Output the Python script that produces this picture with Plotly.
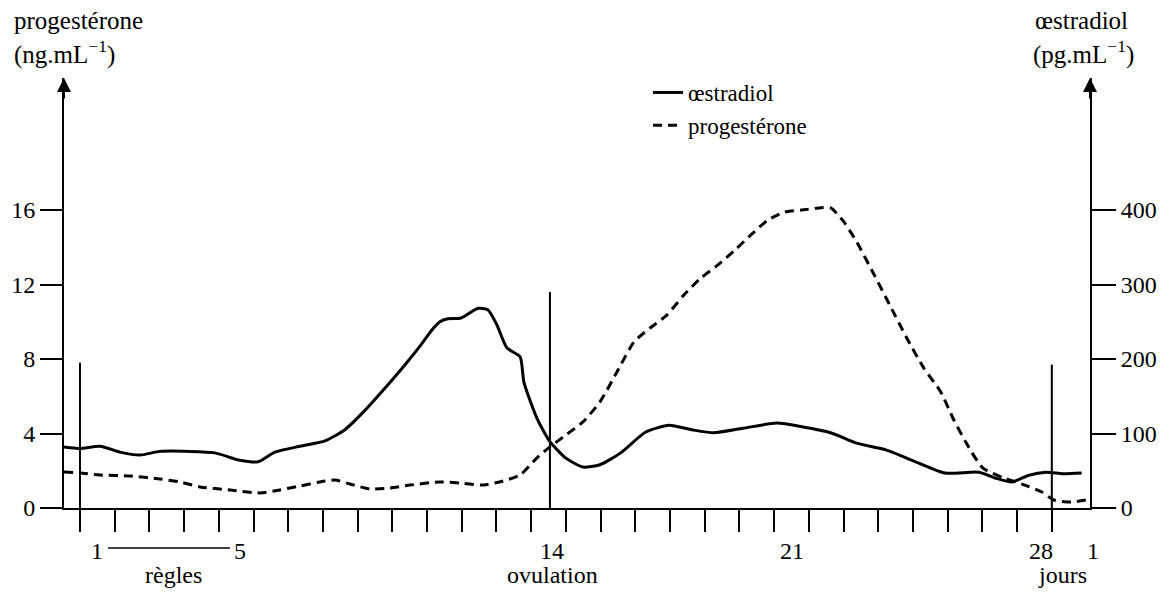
import plotly.graph_objects as go

# ---------------- data ----------------
# x = day of the cycle (day d is centred on d; tick marks sit on day boundaries)
oestradiol_days = [0.04, 0.5, 1.08, 1.65, 2.23, 2.80, 3.67, 4.39, 5.11, 5.63, 6.12, 6.84,
                   7.56, 8.13, 8.71, 9.29, 9.86, 10.29, 10.64, 10.87, 11.10, 11.48, 11.97,
                   12.25, 12.51, 12.80, 13.18, 13.29, 13.66, 14.04, 14.50, 14.99, 15.48,
                   16.08, 16.80, 17.47, 18.13, 18.76, 19.60, 20.58, 21.30, 22.13, 22.88,
                   23.72, 24.58, 25.42, 26.40, 26.89, 27.35, 27.84, 28.33, 28.82, 29.36]
oestradiol_pg = [82, 80, 83, 75, 71, 76, 76, 74, 64, 62, 75, 83,
                 90, 105, 131, 161, 192, 217, 239, 250, 254, 255, 268,
                 266, 246, 215, 203, 169, 121, 89, 67, 55, 58,
                 74, 102, 111, 105, 101, 107, 114, 109, 101, 87,
                 78, 62, 47, 48, 40, 35, 44, 48, 46, 47]

progesterone_days = [0.04, 0.5, 1.08, 1.94, 2.80, 3.38, 3.96, 4.82, 5.69, 6.26, 6.84, 7.41,
                     7.85, 8.28, 8.85, 9.43, 10.01, 10.87, 11.48, 12.08, 12.69, 13.18, 13.66,
                     14.04, 14.50, 14.99, 15.48, 15.97, 16.46, 16.92, 17.41, 17.90, 18.39,
                     18.88, 19.37, 19.83, 20.32, 20.81, 21.30, 21.79, 22.13, 22.51, 22.88,
                     23.34, 23.83, 24.32, 24.81, 25.30, 25.65, 26.02, 26.51, 27.12, 27.72,
                     28.21, 28.56, 29.05, 29.48]
progesterone_ng = [1.93, 1.88, 1.77, 1.72, 1.56, 1.40, 1.13, 0.97, 0.81, 0.97, 1.18, 1.40,
                   1.50, 1.29, 1.02, 1.07, 1.23, 1.40, 1.34, 1.23, 1.45, 1.77, 2.68,
                   3.28, 3.92, 4.62, 5.69, 7.30, 8.91, 9.66, 10.36, 11.44, 12.35,
                   13.05, 13.85, 14.66, 15.46, 15.89, 16.00, 16.11, 16.11, 15.36, 14.28,
                   12.67, 10.90, 9.13, 7.52, 6.23, 4.83, 3.54, 2.15, 1.61, 1.23,
                   0.86, 0.43, 0.32, 0.43]

left_ticks = [0, 4, 8, 12, 16]
right_ticks = [0, 100, 200, 300, 400]
day_boundaries = [d + 0.5 for d in range(0, 29)]          # 0.5 ... 28.5
day_labels = [("1", 1.0), ("5", 5.1), ("14", 14.1), ("21", 21.0), ("28", 28.2), ("1", 29.7)]
event_labels = [("règles", 3.2), ("ovulation", 14.1), ("jours", 28.8)]
reference_lines = [(0.5, 7.8), (14.04, 11.6), (28.5, 7.7)]   # (day, top in ng/mL)
regles_span = (1.31, 4.82)

# ---------------- layout constants ----------------
W, H = 1169, 592
ML, MR, MT, MB = 64, 79, 78, 84
X_RANGE = [0.04, 29.6]
Y_TOP = (H - MB - MT) / 18.625          # ng/mL at top of plot area
RATIO = 25                               # pg/mL per ng/mL
FONT = "Liberation Serif"
FS = 24
plot_h = H - MT - MB
plot_w = W - ML - MR


def py(y_px):
    """pixel y -> paper y"""
    return (H - MB - y_px) / plot_h


def px(x_px):
    """pixel x -> paper x"""
    return (x_px - ML) / plot_w


def pday(d):
    """day value -> paper x"""
    return (d - X_RANGE[0]) / (X_RANGE[1] - X_RANGE[0])


fig = go.Figure()
fig.add_trace(go.Scatter(
    x=oestradiol_days, y=oestradiol_pg, name="œstradiol", yaxis="y2",
    mode="lines", line=dict(color="black", width=3, shape="spline", smoothing=0.6)))
fig.add_trace(go.Scatter(
    x=progesterone_days, y=progesterone_ng, name="progestérone", yaxis="y",
    mode="lines", line=dict(color="black", width=3, dash="9px,6px", shape="spline", smoothing=0.6)))

shapes = []
for d, top in reference_lines:
    shapes.append(dict(type="line", xref="x", yref="y", x0=d, x1=d, y0=0, y1=top,
                       line=dict(color="black", width=2)))
shapes.append(dict(type="line", xref="x", yref="paper", x0=regles_span[0], x1=regles_span[1],
                   y0=py(548), y1=py(548), line=dict(color="black", width=1.5)))

annotations = []
for txt, d in day_labels:
    annotations.append(dict(x=pday(d), y=py(551), xref="paper", yref="paper", text=txt,
                            showarrow=False, font=dict(family=FONT, size=FS, color="black"),
                            xanchor="center", yanchor="middle"))
for txt, d in event_labels:
    annotations.append(dict(x=pday(d), y=py(575), xref="paper", yref="paper", text=txt,
                            showarrow=False, font=dict(family=FONT, size=FS, color="black"),
                            xanchor="center", yanchor="middle"))
# axis titles
annotations += [
    dict(x=px(12), y=py(20), xref="paper", yref="paper", text="progestérone", showarrow=False,
         xanchor="left", yanchor="middle", font=dict(family=FONT, size=25, color="black")),
    dict(x=px(12), y=py(52), xref="paper", yref="paper", text="(ng.mL<sup>−1</sup>)", showarrow=False,
         xanchor="left", yanchor="middle", font=dict(family=FONT, size=25, color="black")),
    dict(x=px(1033), y=py(20), xref="paper", yref="paper", text="œstradiol", showarrow=False,
         xanchor="left", yanchor="middle", font=dict(family=FONT, size=25, color="black")),
    dict(x=px(1031), y=py(52), xref="paper", yref="paper", text="(pg.mL<sup>−1</sup>)", showarrow=False,
         xanchor="left", yanchor="middle", font=dict(family=FONT, size=25, color="black")),
]
# arrowheads on the two vertical axes
for xp in (0, 1):
    annotations.append(dict(x=xp, y=1, xref="paper", yref="paper", ax=0, ay=22, text="",
                            showarrow=True, arrowhead=2, arrowsize=1.4, arrowwidth=2,
                            arrowcolor="black"))

axis_font = dict(family=FONT, size=FS, color="black")
fig.update_layout(
    width=W, height=H, autosize=False,
    margin=dict(l=ML, r=MR, t=MT, b=MB),
    paper_bgcolor="white", plot_bgcolor="white",
    font=dict(family=FONT, size=FS, color="black"),
    xaxis=dict(range=X_RANGE, showgrid=False, zeroline=False, showline=True, linecolor="black",
               linewidth=2, ticks="outside", tickvals=day_boundaries, ticklen=22, tickwidth=2,
               tickcolor="black", showticklabels=False),
    yaxis=dict(range=[0, Y_TOP], showgrid=False, zeroline=False, showline=True, linecolor="black",
               linewidth=2, ticks="outside", tickvals=left_ticks, ticklen=22, tickwidth=2,
               tickcolor="black", tickfont=axis_font),
    yaxis2=dict(range=[0, Y_TOP * RATIO], overlaying="y", side="right", showgrid=False,
                zeroline=False, showline=True, linecolor="black", linewidth=2, ticks="outside",
                tickvals=right_ticks, ticklen=24, tickwidth=2, tickcolor="black", tickfont=axis_font),
    legend=dict(x=px(648), xanchor="left", y=py(71), yanchor="top", bgcolor="rgba(0,0,0,0)",
                font=dict(family=FONT, size=23, color="black"), tracegroupgap=0),
    showlegend=True,
    shapes=shapes,
    annotations=annotations,
)

fig.write_html("out.html", config={"displayModeBar": False},
               post_script="document.body.style.margin='0px';document.body.style.overflow='hidden';")
